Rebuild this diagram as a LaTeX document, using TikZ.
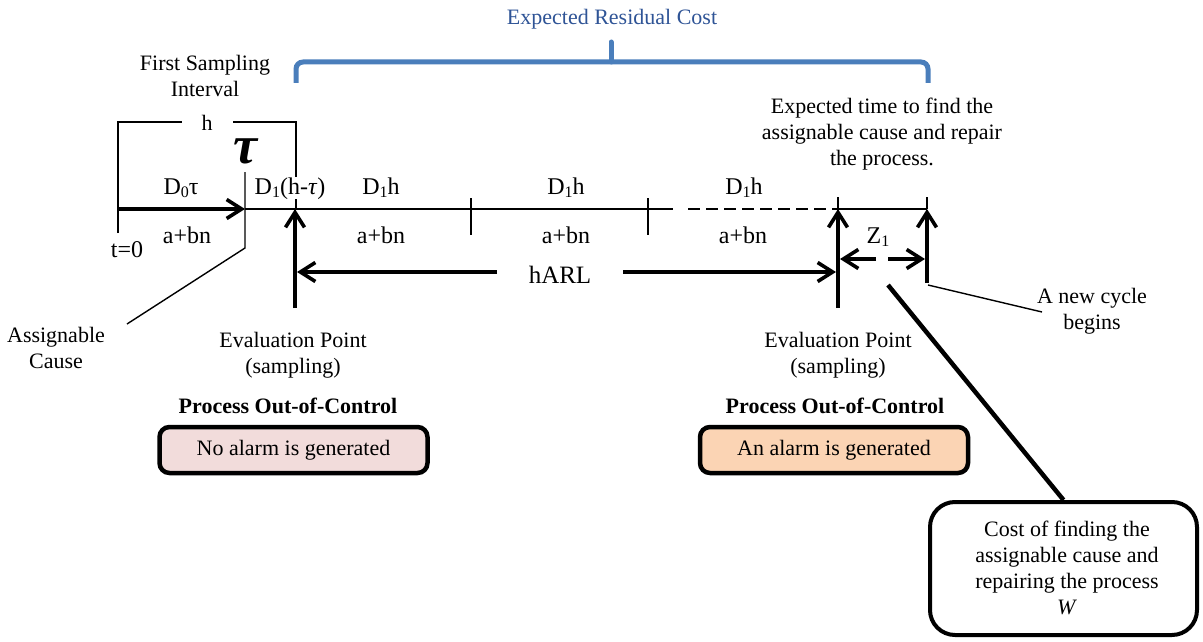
\documentclass[tikz,border=0pt]{standalone}
\usepackage{fontspec}
\setmainfont{Liberation Serif}
\usetikzlibrary{arrows.meta}
\definecolor{ercblue}{RGB}{47,84,150}
\definecolor{bracketblue}{RGB}{74,126,187}
\definecolor{noalarm}{RGB}{242,220,219}
\definecolor{alarm}{RGB}{251,212,180}
\newcommand\lowsub[1]{\raisebox{-3.5pt}{\fontsize{16}{16}\selectfont #1}}

\begin{document}
\begin{tikzpicture}[x=1pt,y=-1pt,
  txt/.style={font=\fontsize{22}{26}\selectfont, align=center, inner sep=0pt},
  tl/.style={txt, font=\fontsize{24}{28}\selectfont, anchor=base},
  thinline/.style={line width=1.4pt},
  heavy/.style={line width=3.6pt},
  barb/.style={-{Straight Barb[length=15pt,width=19pt]}},
  alarmbox/.style={draw, line width=4.5pt, rounded corners=10pt, minimum width=268pt, minimum height=46pt},
]
\useasboundingbox (0,0) rectangle (1203,642);

% ---- time axis points ----
\coordinate (t0) at (118,209);
\coordinate (cause) at (245,209);
\coordinate (eval1) at (295,209);
\coordinate (s2) at (471,209);
\coordinate (s3) at (648,209);
\coordinate (solidend) at (673,209);
\coordinate (dashstart) at (688,209);
\coordinate (eval2) at (838,209);
\coordinate (renew) at (927,209);

% ---- blue bracket over the residual part ----
\draw[bracketblue, line width=5pt, rounded corners=7pt] (296,83) -- (296,62) -- (928,62) -- (928,83);
\draw[bracketblue, line width=5pt, line cap=round] (611,62) -- (611,42);
\node[txt, text=ercblue, anchor=base] (erc) at (612,25) {Expected Residual Cost};

% ---- first sampling interval ----
\node[txt] (fsi) at (205,76) {First Sampling\\Interval};
\node[txt, anchor=base] (hlab) at (207,131) {h};
\draw[thinline] (118,233) -- (118,122) -- (182,122);
\draw[thinline] (233,122) -- (296,122) -- (296,209);
\node[txt, font=\fontsize{54}{54}\selectfont\bfseries\itshape] (tau) at (245,151) {τ};

% ---- time line ----
\draw[heavy, barb] (t0) -- (cause);
\draw[thinline] (cause) -- (solidend);
\draw[thinline, dash pattern=on 12pt off 6pt] (dashstart) -- (eval2);
\draw[thinline] (eval2) -- (renew);

% ticks
\coordinate (acend) at (127,324);
\draw[thinline] (245,172) -- (245,248) -- (acend);
\draw[thinline] (471,198) -- (471,235);
\draw[thinline] (648,198) -- (648,235);
\draw[thinline] (838,197) -- (eval2);
\draw[thinline] (927,197) -- (renew);

% interval labels
\node[tl] (d0) at (181,194) {D\lowsub{0}τ};
\node[tl, fill=white] (d1a) at (290,194) {D\lowsub{1}(h-\textit{τ})};
\node[tl] (d1b) at (381,194) {D\lowsub{1}h};
\node[tl] (d1c) at (566,194) {D\lowsub{1}h};
\node[tl] (d1d) at (744,194) {D\lowsub{1}h};
\node[tl] (c0) at (187,243) {a+bn};
\node[tl] (c1) at (381,243) {a+bn};
\node[tl] (c2) at (566,243) {a+bn};
\node[tl] (c3) at (743,243) {a+bn};
\node[tl] (tzero) at (127,257) {t=0};

% ---- evaluation arrows ----
\draw[heavy, barb] (295,308) -- (eval1);
\draw[heavy, barb] (838,308) -- (eval2);
\draw[heavy, barb] (927,283) -- (renew);

% hARL span
\node[tl, font=\fontsize{25}{28}\selectfont] (harl) at (560,283) {hARL};
\draw[heavy, barb] (497,272) -- (297,272);
\draw[heavy, barb] (623,272) -- (836,272);

% Z1 span
\node[tl] (z1) at (878,243) {Z\lowsub{1}};
\draw[heavy, barb] (876,259) -- (840,259);
\draw[heavy, barb] (888,259) -- (925,259);

% ---- annotations ----
\node[txt] (acl) at (56,348) {Assignable\\Cause};
\node[txt] (ev1) at (293,355) {Evaluation Point\\(sampling)};
\node[txt] (ev2) at (838,355) {Evaluation Point\\(sampling)};
\node[txt, anchor=base, font=\fontsize{22}{26}\selectfont\bfseries] (poc1) at (288,413) {Process Out-of-Control};
\node[txt, anchor=base, font=\fontsize{22}{26}\selectfont\bfseries] (poc2) at (835,413) {Process Out-of-Control};
\node[txt, alarmbox, fill=noalarm] (nobox) at (293.5,450) {No alarm is generated};
\node[txt, alarmbox, fill=alarm] (yesbox) at (834,450) {An alarm is generated};

\node[txt] (ett) at (882,134) {Expected time to find the\\assignable cause and repair\\the process.};
\node[txt] (ncy) at (1092,311) {A new cycle\\begins};
\coordinate (ncyfoot) at (928,285);
\draw[thinline] (ncyfoot) -- (1042,312);

\node[draw, line width=4pt, rounded corners=25pt, minimum width=267pt, minimum height=133pt] (cbox) at (1063.5,568.5) {};
\node[txt] (ctext) at (1067,568) {Cost of finding the\\assignable cause and\\repairing the process\\\textit{W}};
\coordinate (cfoot) at (888,285);
\draw[line width=4.5pt] (cfoot) -- (cbox.north);
\end{tikzpicture}
\end{document}
